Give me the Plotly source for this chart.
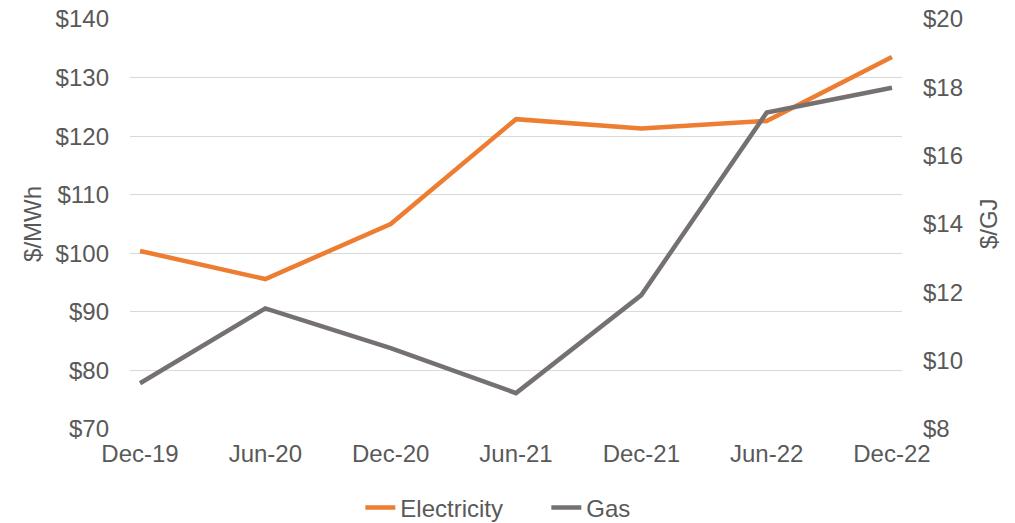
import plotly.graph_objects as go

periods = ["Dec-19", "Jun-20", "Dec-20", "Jun-21", "Dec-21", "Jun-22", "Dec-22"]
electricity = [100.4, 95.6, 105.0, 122.9, 121.3, 122.6, 133.5]   # $/MWh
gas = [9.34, 11.53, 10.37, 9.05, 11.92, 17.26, 17.99]             # $/GJ

left_ticks = [70, 80, 90, 100, 110, 120, 130, 140]
right_ticks = [8, 10, 12, 14, 16, 18, 20]

TEXT = "#595959"
GRID = "#D9D9D9"
FONT = "Liberation Sans, Arial, sans-serif"
SIZE = 24

fig = go.Figure()
fig.add_trace(go.Scatter(
    x=list(range(len(periods))), y=electricity, name="Electricity",
    mode="lines", line=dict(color="#ED7D31", width=4.5), yaxis="y",
))
fig.add_trace(go.Scatter(
    x=list(range(len(periods))), y=gas, name="Gas",
    mode="lines", line=dict(color="#767171", width=4.5), yaxis="y2",
))

fig.update_layout(
    width=1015, height=523,
    margin=dict(l=130, r=113, t=19, b=94),
    paper_bgcolor="white", plot_bgcolor="white",
    font=dict(family=FONT, color=TEXT, size=SIZE),
    showlegend=True,
    legend=dict(orientation="h", xref="container", yref="container",
                x=0.355, xanchor="left", y=0.029, yanchor="middle",
                entrywidth=141, font=dict(size=SIZE, color=TEXT)),
    xaxis=dict(
        tickmode="array", tickvals=list(range(len(periods))), ticktext=periods,
        range=[-0.08, 6.08], showgrid=False, zeroline=False, showline=False,
        ticks="", ticklabelstandoff=8, automargin=False,
        tickfont=dict(size=SIZE, color=TEXT),
    ),
    yaxis=dict(
        range=[70, 140], tickvals=left_ticks,
        ticktext=[f"${v}" for v in left_ticks],
        showgrid=True, gridcolor=GRID, gridwidth=1.3, zeroline=False,
        showline=False, ticks="", ticklabelstandoff=20, automargin=False,
        tickfont=dict(size=SIZE, color=TEXT),
    ),
    yaxis2=dict(
        range=[8, 20], tickvals=right_ticks,
        ticktext=[f"${v}" for v in right_ticks],
        overlaying="y", side="right", showgrid=False, zeroline=False,
        showline=False, ticks="", ticklabelstandoff=20, automargin=False,
        tickfont=dict(size=SIZE, color=TEXT),
    ),
    annotations=[
        dict(text="$/MWh", xref="paper", yref="paper", x=-0.127, y=0.5,
             xanchor="center", yanchor="middle", textangle=-90, showarrow=False,
             font=dict(size=SIZE, color=TEXT)),
        dict(text="$/GJ", xref="paper", yref="paper", x=1.1115, y=0.5,
             xanchor="center", yanchor="middle", textangle=-90, showarrow=False,
             font=dict(size=SIZE, color=TEXT)),
    ],
)

fig.write_html("out.html")
